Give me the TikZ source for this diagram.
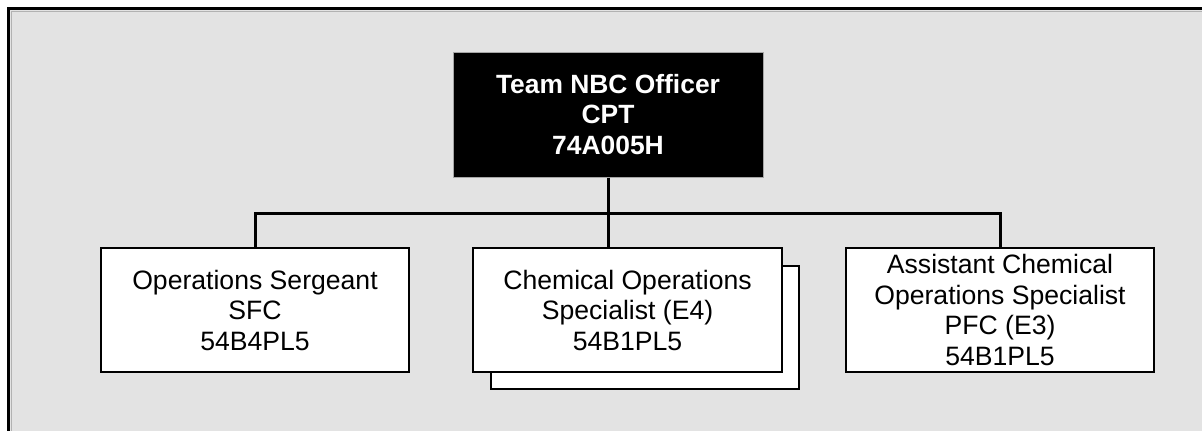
\documentclass[tikz,border=0pt]{standalone}
\usepackage{fontspec}
\setmainfont{Liberation Sans}
\definecolor{bggray}{HTML}{E3E3E3}
\begin{document}
\begin{tikzpicture}[x=1pt,y=-1pt,
  unitbox/.style={draw=black, line width=1.5pt, fill=white, rectangle, inner sep=0pt,
    minimum width=308pt, minimum height=124pt, align=center,
    font=\fontsize{26.6}{30.5}\selectfont},
  headbox/.style={draw=gray!70, line width=1pt, fill=black, rectangle, inner sep=0pt,
    minimum width=310pt, minimum height=125pt, align=center, text=white,
    font=\fontsize{26.4}{30.5}\selectfont\bfseries},
  link/.style={line width=3pt, draw=black}]
\path[use as bounding box] (0,0) rectangle (1202,431);
\clip (0,0) rectangle (1202,431);
\draw[fill=bggray, line width=3pt] (8.5,8.5) rectangle (1220,450);
\draw[gray!60, line width=1pt] (11,11) -- (1220,11);
\draw[gray!60, line width=1pt] (11,11) -- (11,450);

\node[headbox] (top) at (608,114.5) {Team NBC Officer\\CPT\\74A005H};

\node[unitbox] (left) at (255,310) {Operations Sergeant\\SFC\\54B4PL5};
\node[unitbox, minimum width=308pt, minimum height=123pt] (midb) at (645,327.5) {};
\node[unitbox, minimum width=309pt] (midf) at (627.5,310) {Chemical Operations\\Specialist (E4)\\54B1PL5};
\node[unitbox] (right) at (1000,310) {Assistant Chemical\\Operations Specialist\\PFC (E3)\\54B1PL5};

\coordinate (bus) at (608,213);
\draw[link] (top.south) -- (bus);
\draw[link] (left.north) |- (bus) -| (right.north);
\draw[link] (bus) -- (bus |- midf.north);
\end{tikzpicture}
\end{document}
